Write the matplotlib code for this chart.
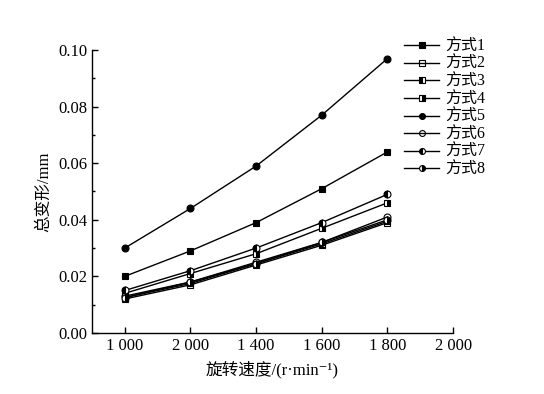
import matplotlib

matplotlib.use("Agg")
import matplotlib.pyplot as plt
from matplotlib.ticker import MultipleLocator, FormatStrFormatter

plt.rcParams["font.family"] = ["Liberation Serif", "Noto Sans CJK SC", "DejaVu Serif"]

# 旋转速度 (tick positions) and printed tick labels (as in the original figure)
speeds = [1000, 1200, 1400, 1600, 1800]
tick_pos = [1000, 1200, 1400, 1600, 1800, 2000]
tick_labels = ["1 000", "2 000", "1 400", "1 600", "1 800", "2 000"]

# 总变形 / mm
mode1 = [0.020, 0.029, 0.039, 0.051, 0.064]
mode2 = [0.012, 0.017, 0.024, 0.031, 0.039]
mode3 = [0.0125, 0.0175, 0.0245, 0.0315, 0.0395]
mode4 = [0.014, 0.021, 0.028, 0.037, 0.046]
mode5 = [0.030, 0.044, 0.059, 0.077, 0.097]
mode6 = [0.013, 0.018, 0.025, 0.032, 0.041]
mode7 = [0.015, 0.022, 0.030, 0.039, 0.049]
mode8 = [0.0125, 0.018, 0.0245, 0.032, 0.040]

series = [
    ("方式1", mode1, "s", "full"),
    ("方式2", mode2, "s", "none"),
    ("方式3", mode3, "s", "left"),
    ("方式4", mode4, "s", "right"),
    ("方式5", mode5, "o", "full"),
    ("方式6", mode6, "o", "none"),
    ("方式7", mode7, "o", "left"),
    ("方式8", mode8, "o", "right"),
]

fig = plt.figure(figsize=(5.44, 3.94), dpi=100)
ax = fig.add_axes([0.169, 0.155, 0.664, 0.718])

for label, vals, mk, fill in series:
    ax.plot(speeds, vals, color="black", lw=1.0, marker=mk, ms=5,
            fillstyle=fill, markerfacecolor="black" if fill != "none" else "white",
            markerfacecoloralt="white", markeredgecolor="black",
            markeredgewidth=0.8, label=label)

ax.set_xlim(900, 2000)
ax.set_ylim(0, 0.10)
ax.set_xticks(tick_pos)
ax.set_xticklabels(tick_labels)
ax.yaxis.set_major_locator(MultipleLocator(0.02))
ax.yaxis.set_minor_locator(MultipleLocator(0.01))
ax.yaxis.set_major_formatter(FormatStrFormatter("%.2f"))
ax.tick_params(direction="in", labelsize=12, width=1, length=4)
ax.tick_params(which="minor", direction="in", width=1, length=2)
for side in ("top", "right"):
    ax.spines[side].set_visible(False)
for side in ("left", "bottom"):
    ax.spines[side].set_linewidth(1.0)

ax.set_xlabel("旋转速度/(r·min⁻¹)", fontsize=12, labelpad=5)
ax.set_ylabel("总变形/mm", fontsize=12, labelpad=4)

fig.legend(loc="upper left", bbox_to_anchor=(0.728, 0.922), frameon=False,
           fontsize=11.5, handlelength=2.2, handletextpad=0.4,
           labelspacing=0.1, borderpad=0, markerscale=0.85)

fig.savefig("out.png", dpi=100)
plt.close(fig)
